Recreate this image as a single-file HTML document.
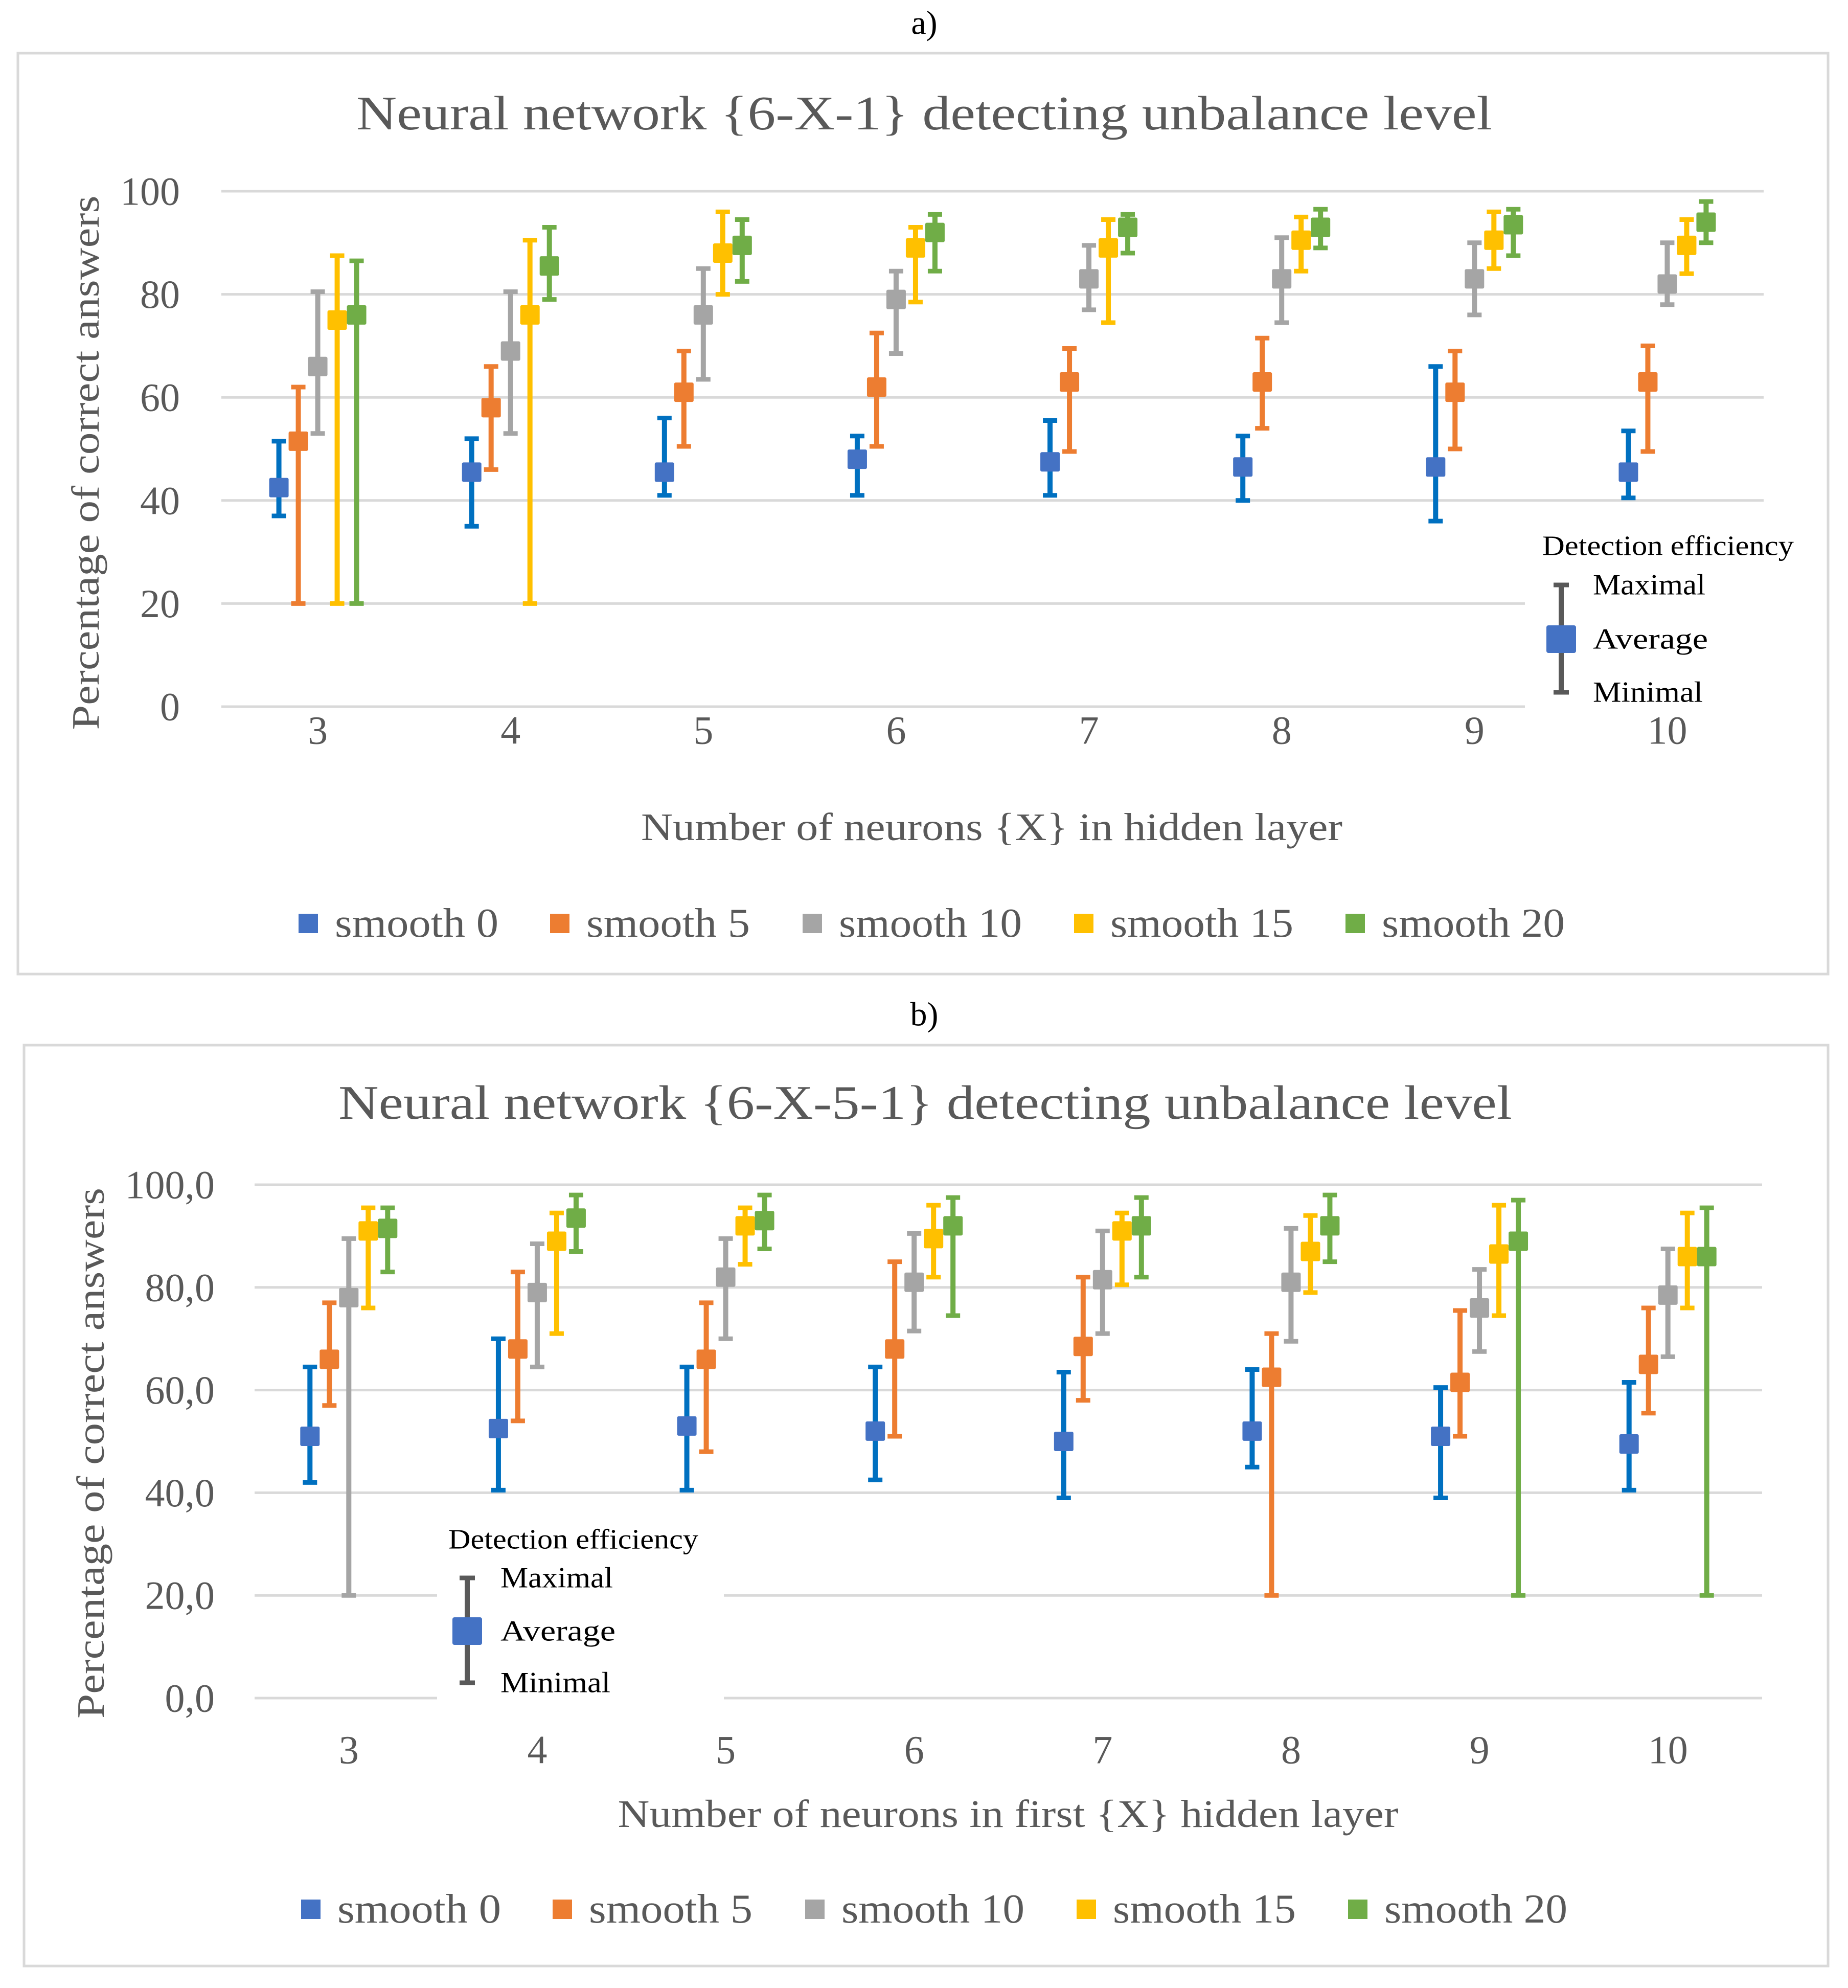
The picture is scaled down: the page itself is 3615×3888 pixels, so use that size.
<!DOCTYPE html>
<html><head><meta charset="utf-8">
<style>
html,body{margin:0;padding:0;background:#fff;}
svg{display:block;}
text{font-family:"Liberation Serif",serif;fill:#595959;}
</style></head>
<body>
<svg id="svg" width="3615" height="3888" viewBox="0 0 3615 3888" xmlns="http://www.w3.org/2000/svg">
<rect width="3615" height="3888" fill="#fff"/>
<text x="1808" y="45" font-size="66" text-anchor="middle" dominant-baseline="central" style="fill:#000">a)</text>
<text x="1808" y="1984" font-size="66" text-anchor="middle" dominant-baseline="central" style="fill:#000">b)</text>
<g id="ga"></g>
<g id="gb"></g>
</svg>
<script>
const seriesNames = ["smooth 0","smooth 5","smooth 10","smooth 15","smooth 20"];
const categoriesA = ["3","4","5","6","7","8","9","10"];
const categoriesB = ["3","4","5","6","7","8","9","10"];
const yTicksA = ["0","20","40","60","80","100"];
const yTicksB = ["0,0","20,0","40,0","60,0","80,0","100,0"];
const avgA = [
 [42.5,45.5,45.5,48,47.5,46.5,46.5,45.5],
 [51.5,58,61,62,63,63,61,63],
 [66,69,76,79,83,83,83,82],
 [75,76,88,89,89,90.5,90.5,89.5],
 [76,85.5,89.5,92,93,93,93.5,94]];
const maxA = [
 [51.5,52,56,52.5,55.5,52.5,66,53.5],
 [62,66,69,72.5,69.5,71.5,69,70],
 [80.5,80.5,85,84.5,89.5,91,90,90],
 [87.5,90.5,96,93,94.5,95,96,94.5],
 [86.5,93,94.5,95.5,95.5,96.5,96.5,98]];
const minA = [
 [37,35,41,41,41,40,36,40.5],
 [20,46,50.5,50.5,49.5,54,50,49.5],
 [53,53,63.5,68.5,77,74.5,76,78],
 [20,20,80,78.5,74.5,84.5,85,84],
 [20,79,82.5,84.5,88,89,87.5,90]];
const avgB = [
 [51,52.5,53,52,50,52,51,49.5],
 [66,68,66,68,68.5,62.5,61.5,65],
 [78,79,82,81,81.5,81,76,78.5],
 [91,89,92,89.5,91,87,86.5,86],
 [91.5,93.5,93,92,92,92,89,86]];
const maxB = [
 [64.5,70,64.5,64.5,63.5,64,60.5,61.5],
 [77,83,77,85,82,71,75.5,76],
 [89.5,88.5,89.5,90.5,91,91.5,83.5,87.5],
 [95.5,94.5,95.5,96,94.5,94,96,94.5],
 [95.5,98,98,97.5,97.5,98,97,95.5]];
const minB = [
 [42,40.5,40.5,42.5,39,45,39,40.5],
 [57,54,48,51,58,20,51,55.5],
 [20,64.5,70,71.5,71,69.5,67.5,66.5],
 [76,71,84.5,82,80.5,79,74.5,76],
 [83,87,87.5,74.5,82,85,20,20]];

const NS="http://www.w3.org/2000/svg";
const markerCols=["#4472C4","#ED7D31","#A5A5A5","#FFC000","#70AD47"];
const barCols=["#0070C0","#ED7D31","#A5A5A5","#FFC000","#70AD47"];
function mk(parent,tag,attrs){const e=document.createElementNS(NS,tag);for(const k in attrs)e.setAttribute(k,attrs[k]);parent.appendChild(e);return e;}

function drawChart(g,cfg,cats,ticks,avg,mx,mn,key){
  const fr=mk(g,'rect',{x:cfg.fx,y:cfg.fy,width:cfg.fw,height:cfg.fh,fill:'#fff',stroke:'#D9D9D9','stroke-width':5});
  
  
  const t=mk(g,'text',{x:cfg.titleX,y:cfg.titleY,'font-size':94,'text-anchor':'middle','dominant-baseline':'central',textLength:cfg.titleLen,lengthAdjust:'spacingAndGlyphs'});
  t.textContent=cfg.title;
  
  
  const y=v=>cfg.y0-(v/100)*(cfg.y0-cfg.y100);
  const band=(cfg.right-cfg.left)/cats.length;
  const xc=i=>cfg.left+(i+0.5)*band;
  ticks.forEach((lab,i)=>{
    const v=i*20, yy=y(v);
    const gl=mk(g,'line',{x1:cfg.left,x2:cfg.right,y1:yy,y2:yy,stroke:'#D9D9D9','stroke-width':5});
    
    
    const tl=mk(g,'text',{x:cfg.tickX,y:yy,'font-size':78,'text-anchor':'end','dominant-baseline':'central'});
    tl.textContent=lab;
    
    
  });
  const yt=mk(g,'text',{x:cfg.ytX,y:cfg.ytY,'font-size':76,'text-anchor':'middle','dominant-baseline':'central',transform:`rotate(-90 ${cfg.ytX} ${cfg.ytY})`,textLength:cfg.ytLen,lengthAdjust:'spacingAndGlyphs'});
  yt.textContent='Percentage of correct answers';
  
  
  cats.forEach((c,i)=>{
    const xl=mk(g,'text',{x:xc(i),y:cfg.xtY,'font-size':78,'text-anchor':'middle','dominant-baseline':'central'});
    xl.textContent=c;
    
    
  });
  const xt=mk(g,'text',{x:cfg.xtX,y:cfg.xtTY,'font-size':76,'text-anchor':'middle','dominant-baseline':'central',textLength:cfg.xtLen,lengthAdjust:'spacingAndGlyphs'});
  xt.textContent=cfg.xTitle;
  
  
  const kb=mk(g,'rect',{x:key.bx,y:key.by,width:key.bw,height:key.bh,fill:'#fff'});
  
  
  const off=[-76,-38,0,38,76];
  for(let s=0;s<5;s++){
    const sg=mk(g,'g',{});
    
    
    cats.forEach((c,i)=>{
      const x=xc(i)+off[s];
      const l=mk(sg,'line',{x1:x,x2:x,y1:y(mx[s][i]),y2:y(mn[s][i]),stroke:barCols[s],'stroke-width':10});
      
      
      [mx[s][i],mn[s][i]].forEach(v=>{
        const cp=mk(sg,'line',{x1:x-14,x2:x+14,y1:y(v),y2:y(v),stroke:barCols[s],'stroke-width':9});
        
        
      });
      const m=mk(sg,'rect',{x:x-19,y:y(avg[s][i])-19,width:38,height:38,fill:markerCols[s],rx:3});
      
      
    });
  }
  const dt=mk(g,'text',{x:key.tx,y:key.ty,'font-size':55,'text-anchor':'start','dominant-baseline':'central',textLength:key.tLen,lengthAdjust:'spacingAndGlyphs',style:'fill:#000'});
  dt.textContent='Detection efficiency';
  
  
  const il=mk(g,'line',{x1:key.ix,x2:key.ix,y1:key.yMax,y2:key.yMin,stroke:'#595959','stroke-width':10});
  
  
  [key.yMax,key.yMin].forEach(v=>{mk(g,'line',{x1:key.ix-15,x2:key.ix+15,y1:v,y2:v,stroke:'#595959','stroke-width':9});});
  const im=mk(g,'rect',{x:key.ix-29,y:key.yAvg-27,width:58,height:54,fill:'#4472C4',rx:4});
  
  
  [['Maximal',key.yMax,220],['Average',key.yAvg,225],['Minimal',key.yMin,215]].forEach(([lab,yy,w])=>{
    const tt=mk(g,'text',{x:key.lx,y:yy,'font-size':57,'dominant-baseline':'central',style:'fill:#000',textLength:w,lengthAdjust:'spacingAndGlyphs'});
    tt.textContent=lab;
    
    
  });
  const lx=[603,1095,1589,2120,2651];
  const lw=[320,320,358,358,358];
  seriesNames.forEach((n,s)=>{
    const lg=mk(g,'g',{});
    
    
    mk(lg,'rect',{x:lx[s]-19+cfg.legDx,y:cfg.legY-19,width:38,height:38,fill:markerCols[s]});
    const tx=mk(lg,'text',{x:lx[s]+52+cfg.legDx,y:cfg.legY,'font-size':80,'dominant-baseline':'central',textLength:lw[s],lengthAdjust:'spacingAndGlyphs'});
    tx.textContent=n;
  });
}
drawChart(document.getElementById('ga'),
 {fx:35,fy:104,fw:3541,fh:1801,title:'Neural network {6-X-1} detecting unbalance level',titleX:1808,titleY:222,titleLen:2222,
  y0:1382,y100:374,left:433,right:3450,tickX:352,ytX:168,ytY:905,ytLen:1045,xtY:1428,xTitle:'Number of neurons {X} in hidden layer',xtX:1940,xtTY:1618,xtLen:1372,legY:1806,legDx:0},
 categoriesA,yTicksA,avgA,maxA,minA,
 {bx:2983,by:1025,bw:560,bh:370,tx:3017,ty:1067,tLen:492,ix:3054,yMax:1144,yAvg:1250,yMin:1354,lx:3116});
drawChart(document.getElementById('gb'),
 {fx:47,fy:2044,fw:3529,fh:1801,title:'Neural network {6-X-5-1} detecting unbalance level',titleX:1810,titleY:2157,titleLen:2296,
  y0:3321,y100:2317,left:498,right:3447,tickX:420,ytX:178,ytY:2842,ytLen:1038,xtY:3422,xTitle:'Number of neurons in first {X} hidden layer',xtX:1972,xtTY:3548,xtLen:1527,legY:3734,legDx:5},
 categoriesB,yTicksB,avgB,maxB,minB,
 {bx:855,by:2970,bw:561,bh:360,tx:877,ty:3010,tLen:489,ix:914,yMax:3086,yAvg:3190,yMin:3291,lx:979});
</script>
</body></html>
